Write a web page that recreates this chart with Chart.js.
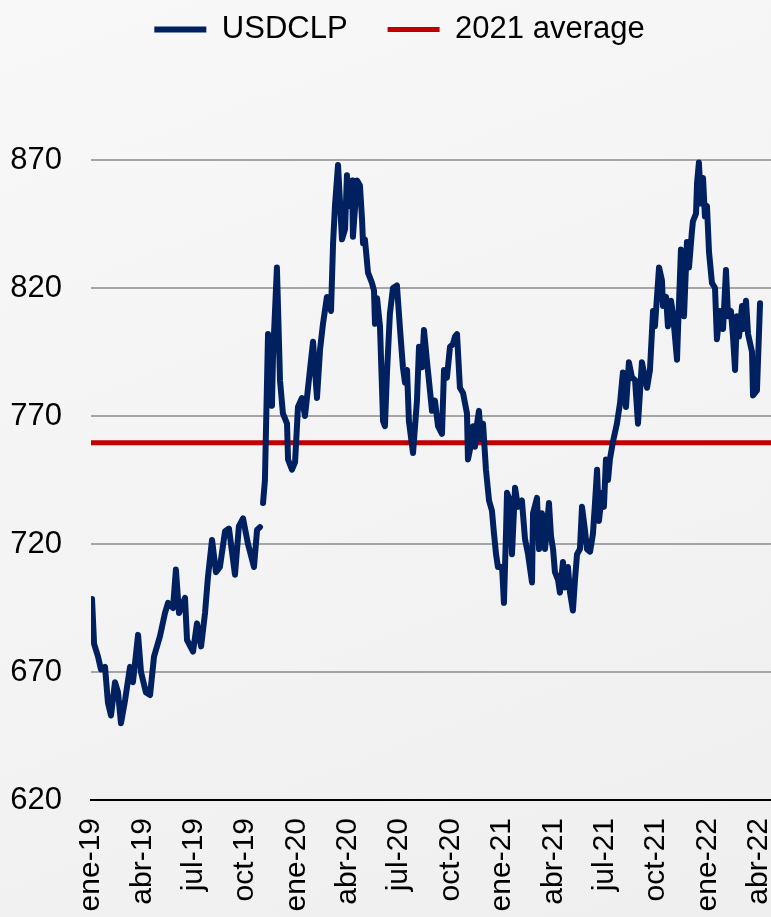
<!DOCTYPE html>
<html>
<head>
<meta charset="utf-8">
<script src="https://cdn.jsdelivr.net/npm/chart.js@4.4.1/dist/chart.umd.min.js"></script>
<style>
html,body{margin:0;padding:0;}
body{width:771px;height:917px;overflow:hidden;background:linear-gradient(160deg,#f8f8f8 0%,#f4f4f4 45%,#efefef 100%);}
#wrap{position:relative;width:771px;height:917px;}
canvas{display:block;}
</style>
</head>
<body>
<div id="wrap"><canvas id="c" width="771" height="917"></canvas></div>
<script>
// ---- DATA ----
const xTickLabels = ['ene-19','abr-19','jul-19','oct-19','ene-20','abr-20','jul-20','oct-20','ene-21','abr-21','jul-21','oct-21','ene-22','abr-22'];
const yTicks = [620, 670, 720, 770, 820, 870];
const avg2021 = 759.5;
// months since 1 Jan 2019
const months = [
0.06,0.18,0.41,0.58,0.82,0.88,0.99,1.17,1.40,1.58,
1.75,1.99,2.28,2.45,2.75,2.92,3.21,3.45,3.68,4.03,
4.32,4.50,4.79,4.96,5.14,5.49,5.61,5.96,6.19,6.43,
6.66,6.83,7.07,7.30,7.53,7.83,8.06,8.41,8.64,8.88,
9.17,9.52,9.70,9.87,9.95,10.05,10.16,10.34,10.57,10.63,
10.86,11.04,11.21,11.45,11.51,11.74,11.92,12.09,12.32,12.50,
12.79,12.97,13.20,13.38,13.55,13.78,14.02,14.14,14.25,14.43,
14.66,14.84,14.95,15.07,15.25,15.30,15.54,15.71,15.83,15.89,
16.00,16.18,16.41,16.53,16.59,16.71,16.88,17.06,17.17,17.29,
17.46,17.64,17.87,18.05,18.22,18.34,18.46,18.57,18.81,19.04,
19.16,19.33,19.45,19.63,19.92,20.09,20.27,20.50,20.62,20.79,
20.97,21.14,21.26,21.38,21.55,21.73,21.96,22.02,22.14,22.31,
22.43,22.55,22.66,22.78,22.90,23.07,23.13,23.25,23.42,23.54,
23.66,23.77,24.01,24.12,24.24,24.30,24.47,24.59,24.77,24.94,
25.17,25.35,25.53,25.76,25.82,26.05,26.17,26.34,26.52,26.75,
26.87,26.99,27.10,27.28,27.39,27.57,27.69,27.86,27.98,28.15,
28.27,28.39,28.56,28.68,28.85,28.97,29.15,29.32,29.44,29.56,
29.67,29.85,29.96,30.08,30.20,30.31,30.49,30.72,30.90,31.07,
31.25,31.42,31.60,31.78,31.95,32.18,32.36,32.48,32.65,32.83,
32.94,33.06,33.18,33.35,33.41,33.59,33.70,33.88,33.99,34.23,
34.29,34.46,34.58,34.64,34.81,34.93,35.10,35.16,35.34,35.40,
35.51,35.63,35.75,35.86,35.98,36.10,36.27,36.45,36.56,36.74,
36.92,37.09,37.21,37.38,37.50,37.62,37.73,37.85,38.03,38.08,
38.26,38.38,38.61,38.67,38.90,39.08
];
const usdclp = [
698.5,681,676,671,672,667,658,653,666,662,
650,659,672,666,684.5,670,662,661,676,684,
693,697,695,710,693,699,682.5,678,689,680,
693,707,721.6,709,711,725,726,708,727,730,
720,711,725.5,726.6,null,736,745,802,774,793,
828,784,771,767,753,749,752,773.5,777,770,
788,799,777,796,806,816.5,811,837.5,852,868,
839,843,864,852,862,840,862,860,847,837.5,
839,826,822,819,806,816,805,768,766,787,
810,820,821,804,789,783,788,768,755.5,776,
797,789,803.6,791,772,776,766,763,788,785,
797,798,801,802,781,779,771,753,757,766,
758,767,772,761,767,749,745,737,733,724,
716,711,711,697,724,740,737,716,742,734.5,
737,722,716,705,732,738,718,732,718,736,
723,718,709,706,701,713,703,711,701,694,
706,716,718,734.5,725.5,718,717,724,736,749,
729,740,734.5,753,745,753,760,767,775,787,
773.5,791,785,784,767,791,785,781,788,811,
805,816.5,828,823,813,816.5,805,815,810,792,
804,835,827,809,838,828,842,846,849,861,
869,853,863,848,852,834,822,820,800,811,
804,827,809,811,801,788,809,801,813,804,
815,802,795,778,780,814
];

const xMin = 0, xMax = 39.72;
const FONT = "'Liberation Sans',Arial,sans-serif";

const seriesPoints = months.map((m, i) => ({x: m, y: usdclp[i]}));
const avgPoints = [{x: xMin, y: avg2021}, {x: xMax, y: avg2021}];

// nudge the legend block to the right, as in the original layout
const legendShift = {
  id: 'legendShift',
  afterLayout(chart) { if (chart.legend) { chart.legend.left += 28; } }
};

new Chart(document.getElementById('c'), {
  type: 'line',
  data: {
    datasets: [
      {label: 'USDCLP', data: seriesPoints, borderColor: '#002060', backgroundColor: '#002060',
       borderWidth: 6, pointRadius: 0, tension: 0, borderJoinStyle: 'round', borderCapStyle: 'round', spanGaps: false},
      {label: '2021 average', data: avgPoints, borderColor: '#c00000', backgroundColor: '#c00000',
       borderWidth: 5, pointRadius: 0, tension: 0, borderCapStyle: 'round'}
    ]
  },
  plugins: [legendShift],
  options: {
    responsive: false, animation: false, devicePixelRatio: 1,
    layout: {padding: {top: -26, left: 0, right: 0, bottom: 0}},
    plugins: {
      legend: {display: true, position: 'top', align: 'center',
        labels: {usePointStyle: true, pointStyle: 'line', pointStyleWidth: 52, boxHeight: 31, padding: 40,
                 color: '#000', font: {family: FONT, size: 31}}},
      tooltip: {enabled: false}
    },
    scales: {
      x: {type: 'linear', min: xMin, max: xMax,
        afterBuildTicks: s => { s.ticks = xTickLabels.map((l, i) => ({value: i * 3})); },
        ticks: {autoSkip: false, minRotation: 90, maxRotation: 90, padding: 18, color: '#000',
                font: {family: FONT, size: 30}, callback: (v, i) => xTickLabels[i]},
        grid: {display: false, drawTicks: false},
        border: {display: true, color: '#000', width: 2},
        afterFit: s => { s.height = 117; s.paddingLeft = 0; s.paddingRight = 0; }
      },
      y: {min: 620, max: 911,
        afterBuildTicks: s => { s.ticks = yTicks.map(v => ({value: v})); },
        ticks: {padding: 29, color: '#000', font: {family: FONT, size: 31}, callback: v => String(v)},
        grid: {color: c => (c.tick && c.tick.value === 620) ? 'rgba(0,0,0,0)' : '#a6a6a6', lineWidth: 2, drawTicks: false},
        border: {display: false},
        afterFit: s => { s.width = 91; }
      }
    }
  }
});
</script>
</body>
</html>
